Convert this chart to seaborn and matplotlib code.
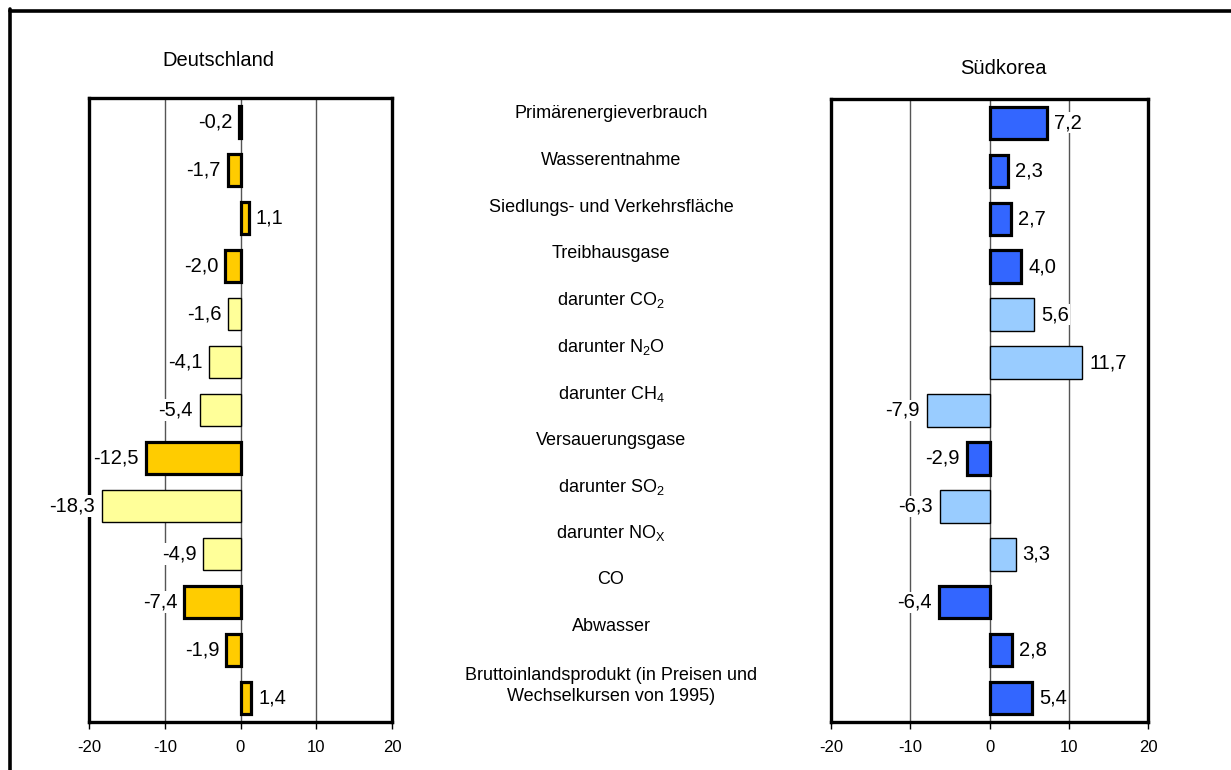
import matplotlib
matplotlib.use("Agg")
import matplotlib.pyplot as plt
from matplotlib.lines import Line2D
import seaborn as sns
import pandas as pd

# Indicators (rows top to bottom)
categories = [
    "Primärenergieverbrauch",
    "Wasserentnahme",
    "Siedlungs- und Verkehrsfläche",
    "Treibhausgase",
    "darunter CO$_2$",
    "darunter N$_2$O",
    "darunter CH$_4$",
    "Versauerungsgase",
    "darunter SO$_2$",
    "darunter NO$_\\mathrm{X}$",
    "CO",
    "Abwasser",
    "Bruttoinlandsprodukt (in Preisen und\nWechselkursen von 1995)",
]
# True for the "darunter" sub-items
is_sub = [False, False, False, False, True, True, True, False, True, True, False, False, False]

# Average annual change in %
de_values = [-0.2, -1.7, 1.1, -2.0, -1.6, -4.1, -5.4, -12.5, -18.3, -4.9, -7.4, -1.9, 1.4]
kr_values = [7.2, 2.3, 2.7, 4.0, 5.6, 11.7, -7.9, -2.9, -6.3, 3.3, -6.4, 2.8, 5.4]

panel_titles = ["Deutschland", "Südkorea"]
x_ticks = [-20, -10, 0, 10, 20]

sns.set_theme(style="white")
plt.rcParams["font.family"] = ["Liberation Sans", "DejaVu Sans"]
plt.rcParams["mathtext.fontset"] = "custom"
plt.rcParams["mathtext.rm"] = "Liberation Sans"
plt.rcParams["mathtext.it"] = "Liberation Sans:italic"
plt.rcParams["mathtext.bf"] = "Liberation Sans:bold"
plt.rcParams["text.color"] = "black"
plt.rcParams["xtick.labelcolor"] = "black"
plt.rcParams["xtick.color"] = "black"

fig = plt.figure(figsize=(12.31, 7.70), dpi=100)
W, H = 1231.0, 770.0


def px_axes(x0, x1, ytop, ybot):
    return fig.add_axes([x0 / W, 1 - ybot / H, (x1 - x0) / W, (ybot - ytop) / H])


ax_de = px_axes(89, 392, 98, 722)
ax_kr = px_axes(831, 1148, 99, 722)

styles = {
    "de": ("#FFCC00", "#FFFF99"),
    "kr": ("#3366FF", "#99CCFF"),
}


def fmt(v):
    return f"{v:.1f}".replace(".", ",")


def draw_panel(ax, values, key, title, title_xy):
    df = pd.DataFrame({"row": [str(i) for i in range(len(values))], "value": values})
    sns.barplot(data=df, x="value", y="row", orient="h", width=0.68,
                color="white", ax=ax, zorder=3)
    main_c, sub_c = styles[key]
    for bar, sub in zip(ax.patches, is_sub):
        if sub:
            bar.set_facecolor(sub_c)
            bar.set_edgecolor("black")
            bar.set_linewidth(1.0)
        else:
            bar.set_facecolor(main_c)
            bar.set_edgecolor("black")
            bar.set_linewidth(2.3)
    ax.set_xlim(-20, 20)
    ax.set_ylim(len(values) - 0.5, -0.5)
    ax.set_xticks(x_ticks)
    ax.set_xticklabels([str(t) for t in x_ticks], fontsize=12, color="black")
    ax.set_yticks([])
    ax.set_xlabel("")
    ax.set_ylabel("")
    ax.tick_params(axis="x", bottom=True, length=5, width=1, color="black",
                   direction="out", pad=8)
    for g in (-10, 0, 10):
        ax.axvline(g, color="#555555", lw=1.0, zorder=1)
    for s in ax.spines.values():
        s.set_linewidth(2.4)
        s.set_color("black")
        s.set_zorder(2.5)
    for i, v in enumerate(values):
        off = 5 if v >= 0 else -5
        ax.annotate(fmt(v), xy=(v, i), xytext=(off, 0), textcoords="offset points",
                    ha="left" if v >= 0 else "right", va="center", fontsize=14.5,
                    color="black",
                    bbox=dict(boxstyle="square,pad=0.05", fc="white", ec="none"),
                    zorder=4, annotation_clip=False)
    fig.text(title_xy[0] / W, 1 - title_xy[1] / H, title, ha="center", va="center",
             fontsize=14.5, color="black")


draw_panel(ax_de, de_values, "de", panel_titles[0], (218, 61))
draw_panel(ax_kr, kr_values, "kr", panel_titles[1], (1003, 68))

# Indicator names in the middle column
for i, name in enumerate(categories):
    y = 114 + 46.6 * i
    if "\n" in name:
        y = 686
    fig.text(611 / W, 1 - y / H, name, ha="center", va="center", fontsize=13,
             linespacing=1.35, color="black")

# Outer frame (top and left edges)
fig.add_artist(Line2D([9.5 / W, 1.01], [1 - 10.5 / H, 1 - 10.5 / H],
                      transform=fig.transFigure, color="black", lw=2.6))
fig.add_artist(Line2D([9.5 / W, 9.5 / W], [-0.01, 1 - 9.2 / H],
                      transform=fig.transFigure, color="black", lw=2.6))

fig.savefig("out.png", dpi=100)
